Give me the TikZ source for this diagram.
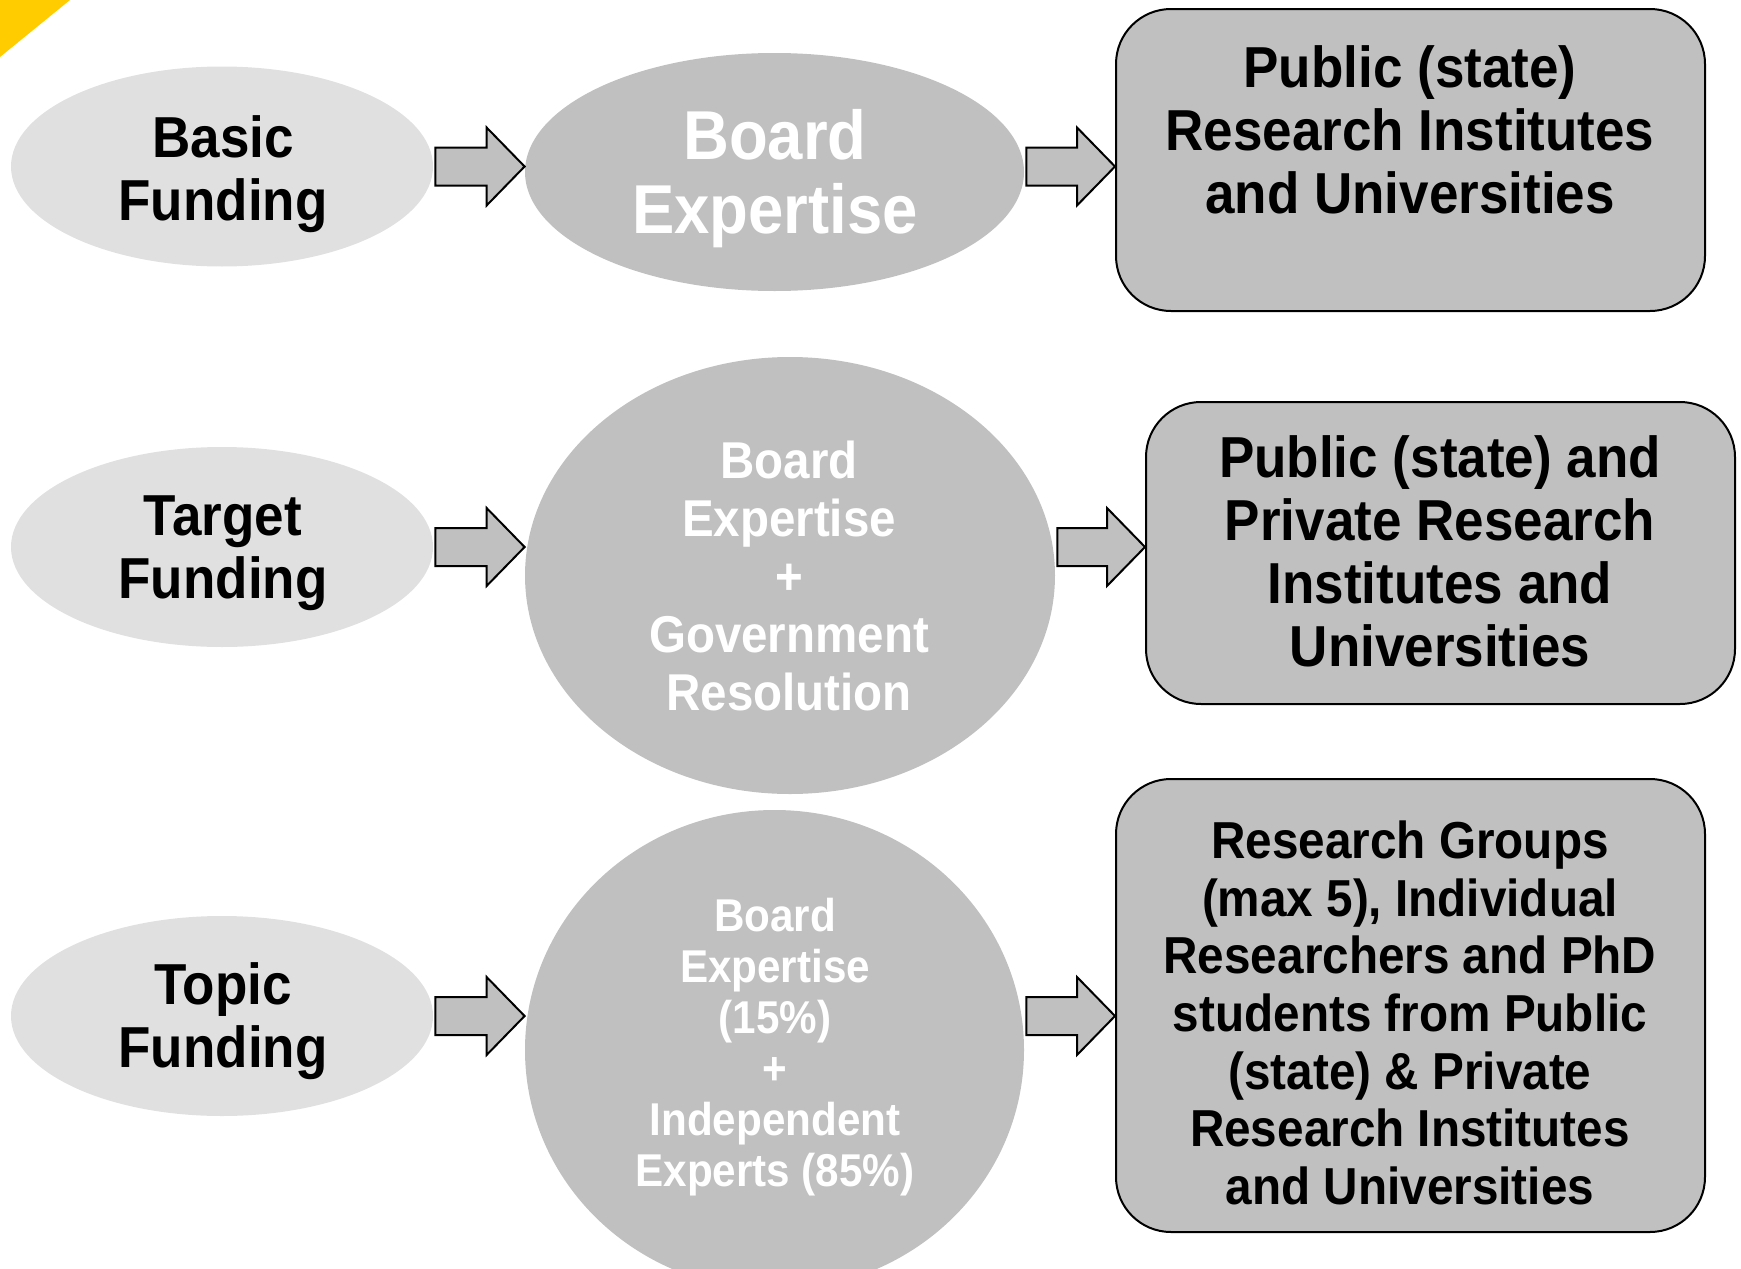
\documentclass[tikz,border=0pt]{standalone}
\usepackage{fontspec}
\setmainfont{Liberation Sans}[FakeStretch=0.917]
\usetikzlibrary{shapes.geometric,calc}
\definecolor{lightg}{RGB}{224,224,224}
\definecolor{midg}{RGB}{192,192,192}
\definecolor{yell}{RGB}{255,204,0}
\newcommand\tp{\rule{0pt}{0.75em}}
\newcommand\bt{\rule[-0.75em]{0pt}{0.75em}}
\newcommand\fs[2]{\fontsize{#1}{#2}\selectfont\bfseries}
\newcommand\blockarrow[3]{%
  \draw[arr] let \p1=(#1.east), \p2=(#2.west), \p3=(#3.center) in
    (\x1+1pt,\y3+9.5pt) -- (\x2-19pt,\y3+9.5pt) -- (\x2-19pt,\y3+19.5pt) --
    (\x2,\y3) -- (\x2-19pt,\y3-19.5pt) -- (\x2-19pt,\y3-9.5pt) --
    (\x1+1pt,\y3-9.5pt) -- cycle;}
\begin{document}
\begin{tikzpicture}[x=0.5pt,y=-0.5pt,
  lell/.style={ellipse, fill=lightg, inner sep=0pt, minimum width=211pt, minimum height=100pt},
  mell/.style={ellipse, fill=midg, inner sep=0pt},
  rbox/.style={rectangle, rounded corners=27.5pt, draw=black, line width=1pt, fill=midg, inner sep=0pt, minimum width=294.5pt},
  txt/.style={align=center, inner sep=0pt},
  wtxt/.style={txt, text=white},
  arr/.style={fill=midg, draw=black, line width=1pt, line join=miter}]
\useasboundingbox (0,0) rectangle (1741,1269);
\fill[yell] (0,0) -- (70,0) -- (0,57) -- cycle;
% shapes
\node[lell] (L1) at (222,166.5) {};
\node[lell] (L2) at (222,547) {};
\node[lell] (L3) at (222,1016) {};
\node[mell, minimum width=249.5pt, minimum height=119pt] (M1) at (774.5,172) {};
\node[mell, minimum width=265pt, minimum height=218.5pt] (M2) at (790,575.5) {};
\node[mell, minimum width=249.5pt, minimum height=240pt] (M3) at (774.5,1050) {};
\node[rbox, minimum height=151pt] (B1) at (1410.5,160) {};
\node[rbox, minimum height=151pt] (B2) at (1440.5,553) {};
\node[rbox, minimum height=226.5pt] (B3) at (1410.5,1005.5) {};
% arrows
\blockarrow{L1}{M1}{L1}
\blockarrow{M1}{B1}{L1}
\blockarrow{L2}{M2}{L2}
\blockarrow{M2}{B2}{L2}
\blockarrow{L3}{M3}{L3}
\blockarrow{M3}{B3}{L3}
% texts
\node[txt, font=\fs{28.9}{31.5}] (tL1) at (223,188.5) {\tp Basic\\Funding\bt};
\node[txt, font=\fs{28.9}{31.5}] (tL2) at (223,566.5) {\tp Target\\Funding\bt};
\node[txt, font=\fs{28.9}{31.5}] (tL3) at (223,1035.5) {\tp Topic\\Funding\bt};
\node[wtxt, font=\fs{34.6}{37}] (tM1) at (775,196) {\tp Board\\Expertise\bt};
\node[wtxt, font=\fs{25.9}{29}] (tM2) at (789,594.5) {\tp Board\\Expertise\\+\\Government\\Resolution\bt};
\node[wtxt, font=\fs{23}{25.5}] (tM3) at (775,1059) {\tp Board\\Expertise\\(15\%)\\+\\Independent\\Experts (85\%)\bt};
\node[txt, font=\fs{28.9}{31.5}] (tB1) at (1410,150) {\tp Public (state)\\Research Institutes\\and Universities\bt};
\node[txt, font=\fs{28.9}{31.5}] (tB2) at (1440,572) {\tp Public (state) and\\Private Research\\Institutes and\\Universities\bt};
\node[txt, font=\fs{26}{28.85}] (tB3) at (1410,1031.5) {\tp Research Groups\\(max 5), Individual\\Researchers and PhD\\students from Public\\(state) \& Private\\Research Institutes\\and Universities\bt};
\end{tikzpicture}
\end{document}
